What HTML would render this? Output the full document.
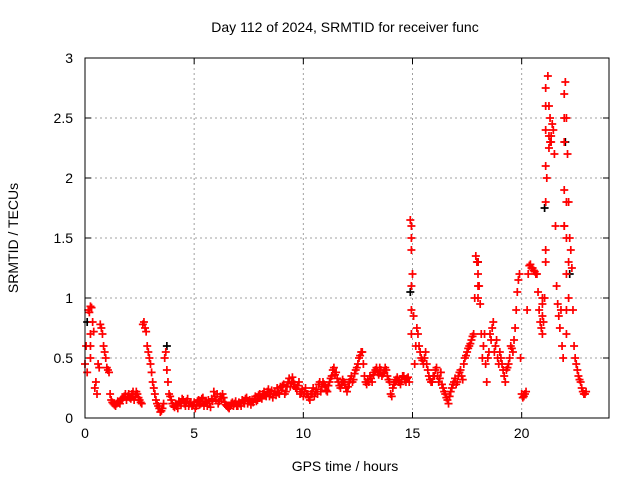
<!DOCTYPE html>
<html><head><meta charset="utf-8">
<style>
body{margin:0;background:#fff;}
svg{display:block;font-family:"Liberation Sans",sans-serif;}
</style></head>
<body>
<svg id="chart" width="640" height="480">
<rect width="640" height="480" fill="#fff"/>
<text x="345" y="32" font-size="14" text-anchor="middle">Day 112 of 2024, SRMTID for receiver func</text>
<text x="345" y="471" font-size="14" text-anchor="middle">GPS time / hours</text>
<text transform="translate(18,238) rotate(-90)" font-size="14" text-anchor="middle">SRMTID / TECUs</text>
<g id="grid"></g>
<g id="ticks"></g>
<g id="marks"></g>
<rect x="85" y="58" width="524" height="360" fill="none" stroke="#000" stroke-width="1"/>
</svg>
<script>
const xTicks=[0,5,10,15,20];
const yTicks=[0,0.5,1,1.5,2,2.5,3];
const yTickLabels=["0","0.5","1","1.5","2","2.5","3"];
const tStart=0, tStep=0.1, tMidStart=0.05;
const values=[
0.45,0.38,0.88,0.92,0.72,0.3,0.45,0.78,0.7,0.55,
0.42,0.38,0.15,0.12,0.1,0.14,0.12,0.16,0.18,0.15,
0.2,0.16,0.22,0.18,0.2,0.15,0.12,0.8,0.72,0.55,
0.45,0.3,0.2,0.12,0.08,0.06,0.12,0.55,0.3,0.18,
0.12,0.09,0.1,0.14,0.12,0.15,0.1,0.16,0.12,0.1,
0.13,0.1,0.15,0.12,0.17,0.14,0.1,0.12,0.16,0.22,
0.15,0.12,0.18,0.2,0.13,0.1,0.08,0.12,0.1,0.14,
0.1,0.12,0.15,0.12,0.17,0.14,0.11,0.13,0.18,0.15,
0.2,0.16,0.22,0.18,0.24,0.2,0.17,0.22,0.25,0.2,
0.23,0.28,0.22,0.3,0.26,0.34,0.28,0.24,0.3,0.22,
0.18,0.25,0.2,0.15,0.22,0.18,0.24,0.28,0.22,0.3,
0.26,0.22,0.3,0.35,0.42,0.38,0.3,0.25,0.32,0.28,
0.22,0.3,0.35,0.32,0.4,0.45,0.52,0.55,0.35,0.28,
0.3,0.33,0.36,0.4,0.38,0.42,0.35,0.38,0.4,0.32,
0.2,0.25,0.3,0.34,0.3,0.32,0.35,0.3,0.34,1.65,
1.2,0.45,0.75,0.6,0.5,0.45,0.55,0.4,0.32,0.3,
0.35,0.42,0.3,0.38,0.25,0.2,0.15,0.18,0.25,0.3,
0.28,0.35,0.4,0.32,0.5,0.55,0.6,0.65,0.7,1.35,
1.2,0.95,0.5,0.7,0.3,0.55,0.65,0.8,0.6,0.5,
0.55,0.45,0.35,0.4,0.45,0.6,0.55,0.75,1.05,1.2,
0.2,0.18,0.22,1.2,1.28,1.25,1.22,1.2,0.9,0.75,
0.8,1.3,2.85,2.3,2.45,2.2,1.1,0.85,0.9,0.5,
2.8,2.2,1.5,1.25,0.6,0.45,0.35,0.3,0.22,0.2
];
const valuesMid=[
0.6,0.9,0.93,0.8,0.25,0.2,0.42,0.75,0.6,0.5,
0.4,0.2,0.13,0.11,0.12,0.13,0.15,0.17,0.2,0.18,
0.17,0.2,0.15,0.22,0.17,0.13,0.78,0.75,0.6,0.5,
0.38,0.25,0.15,0.1,0.05,0.08,0.5,0.4,0.2,0.15,
0.1,0.12,0.08,0.13,0.16,0.12,0.14,0.1,0.13,0.11,
0.08,0.14,0.11,0.16,0.1,0.13,0.15,0.09,0.14,0.18,
0.2,0.14,0.16,0.17,0.11,0.09,0.1,0.13,0.12,0.1,
0.13,0.1,0.14,0.16,0.12,0.15,0.14,0.16,0.14,0.19,
0.17,0.2,0.19,0.22,0.18,0.23,0.2,0.19,0.21,0.26,
0.27,0.2,0.26,0.33,0.29,0.3,0.25,0.27,0.2,0.24,
0.22,0.2,0.17,0.2,0.25,0.22,0.2,0.3,0.26,0.28,
0.23,0.27,0.33,0.4,0.36,0.33,0.27,0.28,0.3,0.25,
0.26,0.32,0.3,0.37,0.42,0.5,0.55,0.45,0.3,0.32,
0.35,0.3,0.38,0.42,0.36,0.4,0.37,0.42,0.35,0.3,
0.18,0.28,0.32,0.3,0.28,0.35,0.32,0.33,0.3,1.5,
0.85,0.6,0.7,0.55,0.48,0.5,0.45,0.35,0.3,0.35,
0.4,0.35,0.33,0.28,0.22,0.17,0.12,0.22,0.28,0.33,
0.3,0.38,0.35,0.45,0.52,0.58,0.62,0.68,1.0,1.3,
1.1,0.7,0.6,0.45,0.5,0.7,0.75,0.55,0.65,0.45,
0.5,0.4,0.3,0.42,0.5,0.58,0.65,0.9,1.15,0.5,
0.17,0.2,0.9,1.27,1.25,1.23,1.2,1.05,0.8,0.7,
1.0,2.0,2.6,2.35,2.4,1.6,0.95,0.75,0.6,1.6,
2.5,1.8,1.4,0.9,0.5,0.4,0.32,0.25,0.2,0.22
];
const extraTimes=[0.25,0.25,0.25,14.95,14.95,14.95,14.95,14.95,18.0,18.0,18.0,20.95,20.95,20.95,21.1,21.1,21.1,21.1,21.1,21.1,21.25,21.25,21.3,21.35,21.95,21.95,21.95,21.95,21.95,22.05,22.05,22.05,22.05,22.05,22.15,22.15];
const extraValues=[0.7,0.5,0.6,1.4,1.1,0.9,0.7,1.6,1.0,1.3,1.1,1.0,0.85,0.95,2.1,2.6,2.75,2.4,1.8,1.4,2.35,2.25,2.5,2.3,2.7,2.5,2.3,1.9,1.6,1.8,1.5,1.2,0.9,0.7,1.3,1.0];
const blackTimes=[0.1,3.75,14.9,18.0,21.05,22.0,22.2];
const blackValues=[0.8,0.6,1.05,1.3,1.75,2.3,1.2];

const X0=85,X1=609,Y0=418,Y1=58,XMAX=24,YMAX=3;
const sx=t=>X0+(t/XMAX)*(X1-X0);
const sy=v=>Y0-(v/YMAX)*(Y0-Y1);
const NS="http://www.w3.org/2000/svg";
const grid=document.getElementById('grid'),ticks=document.getElementById('ticks'),marks=document.getElementById('marks');
function mk(tag,attrs,parent){const e=document.createElementNS(NS,tag);for(const k in attrs)e.setAttribute(k,attrs[k]);parent.appendChild(e);return e;}
xTicks.forEach(t=>{
  const x=sx(t);
  if(t>0){const g=mk('line',{x1:x,x2:x,y1:Y1,y2:Y0,stroke:'#a0a0a0','stroke-dasharray':'2,3'},grid);
  
  }
  mk('line',{x1:x,x2:x,y1:Y0,y2:Y0-6,stroke:'#000'},ticks);
  mk('line',{x1:x,x2:x,y1:Y1,y2:Y1+6,stroke:'#000'},ticks);
  const l=mk('text',{x:x,y:Y0+20,'font-size':14,'text-anchor':'middle'},ticks);
  l.textContent=String(t);
  
  
});
yTicks.forEach((v,i)=>{
  const y=sy(v);
  if(v>0&&v<YMAX){const g=mk('line',{x1:X0,x2:X1,y1:y,y2:y,stroke:'#a0a0a0','stroke-dasharray':'2,3'},grid);
  
  }
  mk('line',{x1:X0,x2:X0+6,y1:y,y2:y,stroke:'#000'},ticks);
  mk('line',{x1:X1,x2:X1-6,y1:y,y2:y,stroke:'#000'},ticks);
  const l=mk('text',{x:X0-12,y:y+5,'font-size':14,'text-anchor':'end'},ticks);
  l.textContent=yTickLabels[i];
  
  
});
function plus(t,v,col){
  const x=sx(t),y=sy(v);
  const p=mk('path',{d:`M${x-4},${y}h8M${x},${y-4}v8`,stroke:col,'stroke-width':1.7,fill:'none'},marks);
  
  
}
blackTimes.forEach((t,i)=>plus(t,blackValues[i],'#000'));
values.forEach((v,i)=>plus(tStart+i*tStep,v,'#ff0000'));
valuesMid.forEach((v,i)=>plus(tMidStart+i*tStep,v,'#ff0000'));
extraTimes.forEach((t,i)=>plus(t,extraValues[i],'#ff0000'));
</script>
</body></html>
